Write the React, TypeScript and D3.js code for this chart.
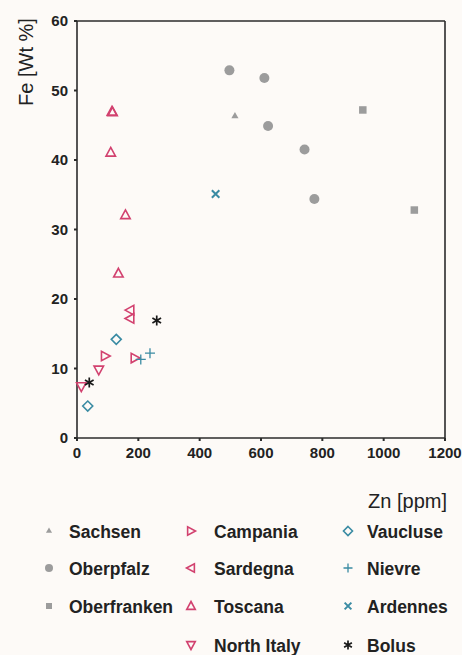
import React from "react";
import * as d3 from "d3";

const W = 462, H = 655;

const xTicks = [0, 200, 400, 600, 800, 1000, 1200];
const yTicks = [0, 10, 20, 30, 40, 50, 60];

const sachsenZn = [515];
const sachsenFe = [46.3];
const oberpfalzZn = [497, 611, 623, 742, 774];
const oberpfalzFe = [52.9, 51.8, 44.9, 41.5, 34.4];
const oberfrankenZn = [932, 1100];
const oberfrankenFe = [47.2, 32.8];
const campaniaZn = [92, 189];
const campaniaFe = [11.8, 11.5];
const sardegnaZn = [173, 173];
const sardegnaFe = [18.4, 17.2];
const toscanaZn = [116, 114, 110, 158, 135];
const toscanaFe = [46.9, 47.0, 41.1, 32.1, 23.7];
const northItalyZn = [71, 14];
const northItalyFe = [9.8, 7.4];
const vaucluseZn = [128, 35];
const vaucluseFe = [14.2, 4.6];
const nievreZn = [208, 238];
const nievreFe = [11.3, 12.2];
const ardennesZn = [452];
const ardennesFe = [35.1];
const bolusZn = [260, 40];
const bolusFe = [16.9, 8.0];

const GRAY = "#9c9c9c";
const PINK = "#d2416f";
const TEAL = "#3a8ba3";
const BLACK = "#1a1a1a";

type Kind = "triUp" | "triSmall" | "circle" | "square" | "triRight" | "triLeft" | "triDown" | "diamond" | "plus" | "x" | "star";

interface Series { name: string; zn: number[]; fe: number[]; kind: Kind; color: string; col: number; row: number; }

const series: Series[] = [
  { name: "Sachsen", zn: sachsenZn, fe: sachsenFe, kind: "triSmall", color: GRAY, col: 0, row: 0 },
  { name: "Oberpfalz", zn: oberpfalzZn, fe: oberpfalzFe, kind: "circle", color: GRAY, col: 0, row: 1 },
  { name: "Oberfranken", zn: oberfrankenZn, fe: oberfrankenFe, kind: "square", color: GRAY, col: 0, row: 2 },
  { name: "Campania", zn: campaniaZn, fe: campaniaFe, kind: "triRight", color: PINK, col: 1, row: 0 },
  { name: "Sardegna", zn: sardegnaZn, fe: sardegnaFe, kind: "triLeft", color: PINK, col: 1, row: 1 },
  { name: "Toscana", zn: toscanaZn, fe: toscanaFe, kind: "triUp", color: PINK, col: 1, row: 2 },
  { name: "North Italy", zn: northItalyZn, fe: northItalyFe, kind: "triDown", color: PINK, col: 1, row: 3 },
  { name: "Vaucluse", zn: vaucluseZn, fe: vaucluseFe, kind: "diamond", color: TEAL, col: 2, row: 0 },
  { name: "Nievre", zn: nievreZn, fe: nievreFe, kind: "plus", color: TEAL, col: 2, row: 1 },
  { name: "Ardennes", zn: ardennesZn, fe: ardennesFe, kind: "x", color: TEAL, col: 2, row: 2 },
  { name: "Bolus", zn: bolusZn, fe: bolusFe, kind: "star", color: BLACK, col: 2, row: 3 },
];

function Marker({ kind, color, x, y, s }: { kind: Kind; color: string; x: number; y: number; s: number }) {
  const r = s / 2;
  const tri = (rot: number) => {
    const p = d3.path();
    const pts = [[0, -r], [r * 0.95, r * 0.75], [-r * 0.95, r * 0.75]];
    pts.forEach((pt, i) => (i === 0 ? p.moveTo(pt[0], pt[1]) : p.lineTo(pt[0], pt[1])));
    p.closePath();
    return <path d={p.toString()} transform={`translate(${x},${y}) rotate(${rot})`} fill="none" stroke={color} strokeWidth={1.6} />;
  };
  switch (kind) {
    case "circle":
      return <circle cx={x} cy={y} r={r} fill={color} />;
    case "square":
      return <rect x={x - r} y={y - r} width={s} height={s} fill={color} />;
    case "triSmall": {
      const p = d3.symbol(d3.symbolTriangle, s * s * 0.45)();
      return <path d={p || ""} transform={`translate(${x},${y})`} fill={color} />;
    }
    case "triUp": return tri(0);
    case "triRight": return tri(90);
    case "triLeft": return tri(-90);
    case "triDown": return tri(180);
    case "diamond": {
      const p = d3.path();
      p.moveTo(0, -r); p.lineTo(r, 0); p.lineTo(0, r); p.lineTo(-r, 0); p.closePath();
      return <path d={p.toString()} transform={`translate(${x},${y})`} fill="none" stroke={color} strokeWidth={1.6} />;
    }
    case "plus": {
      const p = d3.path();
      p.moveTo(-r, 0); p.lineTo(r, 0); p.moveTo(0, -r); p.lineTo(0, r);
      return <path d={p.toString()} transform={`translate(${x},${y})`} stroke={color} strokeWidth={1.3} />;
    }
    case "x": {
      const a = r * 0.75;
      const p = d3.path();
      p.moveTo(-a, -a); p.lineTo(a, a); p.moveTo(-a, a); p.lineTo(a, -a);
      return <path d={p.toString()} transform={`translate(${x},${y})`} stroke={color} strokeWidth={2} />;
    }
    case "star": {
      const p = d3.path();
      for (let i = 0; i < 3; i++) {
        const ang = (Math.PI / 3) * i + Math.PI / 2;
        p.moveTo(Math.cos(ang) * r, Math.sin(ang) * r);
        p.lineTo(-Math.cos(ang) * r, -Math.sin(ang) * r);
      }
      return <path d={p.toString()} transform={`translate(${x},${y})`} stroke={color} strokeWidth={1.7} />;
    }
  }
  return null;
}

export default function App() {
  const left = 77, right = 445, top = 21, bottom = 438;
  const x = d3.scaleLinear().domain([0, 1200]).range([left, right]);
  const y = d3.scaleLinear().domain([0, 60]).range([bottom, top]);
  const font = "'Liberation Sans', Arial, sans-serif";
  const axisColor = "#2b2b2b";
  const sizeFor = (k: Kind) => (k === "circle" ? 10 : k === "square" ? 7.5 : k === "triSmall" ? 7 : 10);
  const legendSize = (k: Kind) => (k === "circle" ? 8 : k === "square" ? 6 : k === "triSmall" ? 6 : 9);
  const colX = [49, 191, 348];
  const textX = [69, 214, 367];
  const rowY = [532, 569, 607, 646];

  return (
    <svg width={W} height={H} style={{ position: "absolute", left: 0, top: 0 }} fontFamily={font}>
      <rect x={0} y={0} width={W} height={H} fill="#fdfaf7" />
      <line x1={left} y1={top} x2={right} y2={top} stroke={axisColor} strokeWidth={1.3} />
      <line x1={right} y1={top} x2={right} y2={bottom} stroke={axisColor} strokeWidth={1.6} />
      <line x1={left} y1={top} x2={left} y2={bottom} stroke={axisColor} strokeWidth={1.6} />
      <line x1={left} y1={bottom} x2={right} y2={bottom} stroke={axisColor} strokeWidth={1.6} />
      {yTicks.map((t) => (
        <g key={"y" + t}>
          <line x1={left - 3} x2={left} y1={y(t)} y2={y(t)} stroke={axisColor} strokeWidth={2} />
          <text x={68} y={y(t)} dy="0.36em" textAnchor="end" fontSize={15} fontWeight="bold" fill="#222">{t}</text>
        </g>
      ))}
      {xTicks.map((t) => (
        <g key={"x" + t}>
          <line x1={x(t)} x2={x(t)} y1={bottom} y2={bottom + 3} stroke={axisColor} strokeWidth={2} />
          <text x={x(t)} y={bottom + 20} textAnchor="middle" fontSize={15} fontWeight="bold" fill="#222">{t}</text>
        </g>
      ))}
      <text transform={`translate(33,62) rotate(-90)`} textAnchor="middle" fontSize={20} fill="#222">Fe [Wt %]</text>
      <text x={447} y={508} textAnchor="end" fontSize={20} fill="#222">Zn [ppm]</text>
      {series.map((s) =>
        s.zn.map((v, i) => (
          <Marker key={s.name + i} kind={s.kind} color={s.color} x={x(v)} y={y(s.fe[i])} s={sizeFor(s.kind)} />
        ))
      )}
      {series.map((s) => (
        <g key={"lg" + s.name}>
          <Marker kind={s.kind} color={s.color} x={colX[s.col]} y={rowY[s.row] - 1} s={legendSize(s.kind)} />
          <text x={textX[s.col]} y={rowY[s.row]} dy="0.36em" fontSize={17.5} fontWeight="bold" fill="#222">{s.name}</text>
        </g>
      ))}
    </svg>
  );
}
